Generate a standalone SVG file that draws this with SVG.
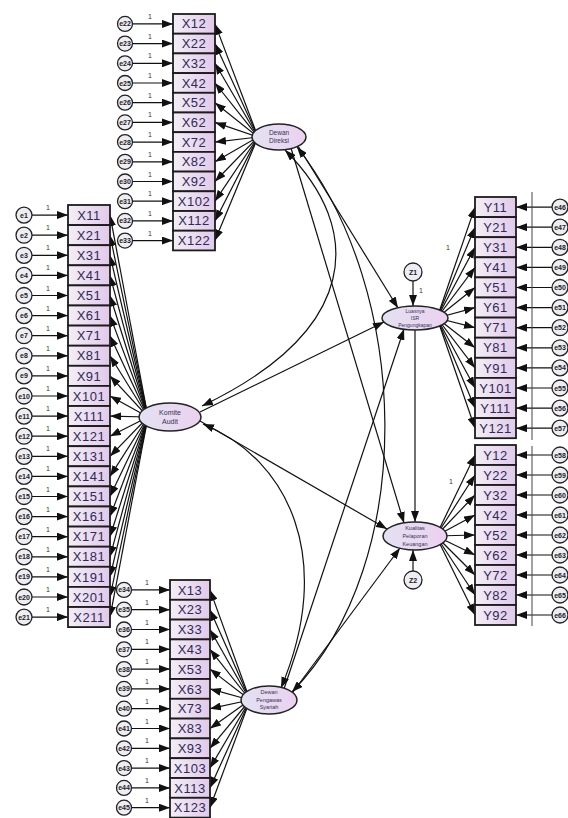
<svg xmlns="http://www.w3.org/2000/svg" width="568" height="818" viewBox="0 0 568 818">
<style>
.b{fill:url(#gb);stroke:#1c1c1c;stroke-width:1.8}
.bt{font-family:"Liberation Sans",Arial,sans-serif;font-size:13px;letter-spacing:0.5px;fill:#2c2c55;text-anchor:middle}
.ec{fill:#eeedf3;stroke:#222;stroke-width:1.3}
.et{font-family:"Liberation Sans",Arial,sans-serif;font-size:7px;font-weight:bold;fill:#222;text-anchor:middle}
.lat{fill:url(#gl);stroke:#222;stroke-width:1.5}
.lt{font-family:"Liberation Sans",Arial,sans-serif;fill:#333350;text-anchor:middle}
.c line,.c path{stroke:#111;stroke-width:1.2;fill:none;marker-end:url(#ah)}
.c path.cov{marker-start:url(#ah)}
.one{font-family:"Liberation Sans",Arial,sans-serif;font-size:7px;fill:#333;text-anchor:middle}
</style>
<defs>
<linearGradient id="gb" x1="0" y1="0" x2="1" y2="0"><stop offset="0" stop-color="#f3eef6"/><stop offset="1" stop-color="#e2c9ea"/></linearGradient>
<linearGradient id="gl" x1="0" y1="0" x2="1" y2="0"><stop offset="0" stop-color="#e3e1f2"/><stop offset="1" stop-color="#ecd1f0"/></linearGradient>
<marker id="ah" markerUnits="userSpaceOnUse" markerWidth="12" markerHeight="8" refX="11" refY="4" orient="auto-start-reverse"><path d="M0,0 L11,4 L0,8 z" fill="#111"/></marker>
</defs>
<rect width="568" height="818" fill="#fff"/>

<g id="connectors" class="c">
<line x1="258" y1="137" x2="215" y2="23.9"/><line x1="258" y1="137" x2="215" y2="43.6"/><line x1="258" y1="137" x2="215" y2="63.3"/><line x1="258" y1="137" x2="215" y2="83"/><line x1="258" y1="137" x2="215" y2="102.7"/><line x1="258" y1="137" x2="215" y2="122.4"/><line x1="258" y1="137" x2="215" y2="142.1"/><line x1="258" y1="137" x2="215" y2="161.8"/><line x1="258" y1="137" x2="215" y2="181.5"/><line x1="258" y1="137" x2="215" y2="201.2"/><line x1="258" y1="137" x2="215" y2="220.9"/><line x1="258" y1="137" x2="215" y2="240.6"/>
<line x1="148" y1="417" x2="110" y2="215.1"/><line x1="148" y1="417" x2="110" y2="235.2"/><line x1="148" y1="417" x2="110" y2="255.3"/><line x1="148" y1="417" x2="110" y2="275.4"/><line x1="148" y1="417" x2="110" y2="295.5"/><line x1="148" y1="417" x2="110" y2="315.6"/><line x1="148" y1="417" x2="110" y2="335.7"/><line x1="148" y1="417" x2="110" y2="355.8"/><line x1="148" y1="417" x2="110" y2="375.9"/><line x1="148" y1="417" x2="110" y2="396"/><line x1="148" y1="417" x2="110" y2="416.1"/><line x1="148" y1="417" x2="110" y2="436.2"/><line x1="148" y1="417" x2="110" y2="456.3"/><line x1="148" y1="417" x2="110" y2="476.4"/><line x1="148" y1="417" x2="110" y2="496.5"/><line x1="148" y1="417" x2="110" y2="516.6"/><line x1="148" y1="417" x2="110" y2="536.7"/><line x1="148" y1="417" x2="110" y2="556.8"/><line x1="148" y1="417" x2="110" y2="576.9"/><line x1="148" y1="417" x2="110" y2="597"/><line x1="148" y1="417" x2="110" y2="617.1"/>
<line x1="250" y1="700" x2="210" y2="589.9"/><line x1="250" y1="700" x2="210" y2="609.7"/><line x1="250" y1="700" x2="210" y2="629.5"/><line x1="250" y1="700" x2="210" y2="649.3"/><line x1="250" y1="700" x2="210" y2="669.1"/><line x1="250" y1="700" x2="210" y2="688.9"/><line x1="250" y1="700" x2="210" y2="708.7"/><line x1="250" y1="700" x2="210" y2="728.5"/><line x1="250" y1="700" x2="210" y2="748.3"/><line x1="250" y1="700" x2="210" y2="768.1"/><line x1="250" y1="700" x2="210" y2="787.9"/><line x1="250" y1="700" x2="210" y2="807.7"/>
<line x1="437" y1="318" x2="475" y2="207.1"/><line x1="437" y1="318" x2="475" y2="227.2"/><line x1="437" y1="318" x2="475" y2="247.3"/><line x1="437" y1="318" x2="475" y2="267.4"/><line x1="437" y1="318" x2="475" y2="287.5"/><line x1="437" y1="318" x2="475" y2="307.6"/><line x1="437" y1="318" x2="475" y2="327.7"/><line x1="437" y1="318" x2="475" y2="347.8"/><line x1="437" y1="318" x2="475" y2="367.9"/><line x1="437" y1="318" x2="475" y2="388"/><line x1="437" y1="318" x2="475" y2="408.1"/><line x1="437" y1="318" x2="475" y2="428.2"/>
<line x1="436" y1="536" x2="475" y2="455"/><line x1="436" y1="536" x2="475" y2="475"/><line x1="436" y1="536" x2="475" y2="495"/><line x1="436" y1="536" x2="475" y2="515"/><line x1="436" y1="536" x2="475" y2="535"/><line x1="436" y1="536" x2="475" y2="555"/><line x1="436" y1="536" x2="475" y2="575"/><line x1="436" y1="536" x2="475" y2="595"/><line x1="436" y1="536" x2="475" y2="615"/>
<line x1="132.5" y1="23.9" x2="173" y2="23.9"/><line x1="132.5" y1="43.6" x2="173" y2="43.6"/><line x1="132.5" y1="63.3" x2="173" y2="63.3"/><line x1="132.5" y1="83" x2="173" y2="83"/><line x1="132.5" y1="102.7" x2="173" y2="102.7"/><line x1="132.5" y1="122.4" x2="173" y2="122.4"/><line x1="132.5" y1="142.1" x2="173" y2="142.1"/><line x1="132.5" y1="161.8" x2="173" y2="161.8"/><line x1="132.5" y1="181.5" x2="173" y2="181.5"/><line x1="132.5" y1="201.2" x2="173" y2="201.2"/><line x1="132.5" y1="220.9" x2="173" y2="220.9"/><line x1="132.5" y1="240.6" x2="173" y2="240.6"/>
<line x1="32" y1="215.1" x2="68" y2="215.1"/><line x1="32" y1="235.2" x2="68" y2="235.2"/><line x1="32" y1="255.3" x2="68" y2="255.3"/><line x1="32" y1="275.4" x2="68" y2="275.4"/><line x1="32" y1="295.5" x2="68" y2="295.5"/><line x1="32" y1="315.6" x2="68" y2="315.6"/><line x1="32" y1="335.7" x2="68" y2="335.7"/><line x1="32" y1="355.8" x2="68" y2="355.8"/><line x1="32" y1="375.9" x2="68" y2="375.9"/><line x1="32" y1="396" x2="68" y2="396"/><line x1="32" y1="416.1" x2="68" y2="416.1"/><line x1="32" y1="436.2" x2="68" y2="436.2"/><line x1="32" y1="456.3" x2="68" y2="456.3"/><line x1="32" y1="476.4" x2="68" y2="476.4"/><line x1="32" y1="496.5" x2="68" y2="496.5"/><line x1="32" y1="516.6" x2="68" y2="516.6"/><line x1="32" y1="536.7" x2="68" y2="536.7"/><line x1="32" y1="556.8" x2="68" y2="556.8"/><line x1="32" y1="576.9" x2="68" y2="576.9"/><line x1="32" y1="597" x2="68" y2="597"/><line x1="32" y1="617.1" x2="68" y2="617.1"/>
<line x1="131.5" y1="589.9" x2="170" y2="589.9"/><line x1="131.5" y1="609.7" x2="170" y2="609.7"/><line x1="131.5" y1="629.5" x2="170" y2="629.5"/><line x1="131.5" y1="649.3" x2="170" y2="649.3"/><line x1="131.5" y1="669.1" x2="170" y2="669.1"/><line x1="131.5" y1="688.9" x2="170" y2="688.9"/><line x1="131.5" y1="708.7" x2="170" y2="708.7"/><line x1="131.5" y1="728.5" x2="170" y2="728.5"/><line x1="131.5" y1="748.3" x2="170" y2="748.3"/><line x1="131.5" y1="768.1" x2="170" y2="768.1"/><line x1="131.5" y1="787.9" x2="170" y2="787.9"/><line x1="131.5" y1="807.7" x2="170" y2="807.7"/>
<line x1="552" y1="207.1" x2="516" y2="207.1"/><line x1="552" y1="227.2" x2="516" y2="227.2"/><line x1="552" y1="247.3" x2="516" y2="247.3"/><line x1="552" y1="267.4" x2="516" y2="267.4"/><line x1="552" y1="287.5" x2="516" y2="287.5"/><line x1="552" y1="307.6" x2="516" y2="307.6"/><line x1="552" y1="327.7" x2="516" y2="327.7"/><line x1="552" y1="347.8" x2="516" y2="347.8"/><line x1="552" y1="367.9" x2="516" y2="367.9"/><line x1="552" y1="388" x2="516" y2="388"/><line x1="552" y1="408.1" x2="516" y2="408.1"/><line x1="552" y1="428.2" x2="516" y2="428.2"/>
<line x1="552" y1="455" x2="516" y2="455"/><line x1="552" y1="475" x2="516" y2="475"/><line x1="552" y1="495" x2="516" y2="495"/><line x1="552" y1="515" x2="516" y2="515"/><line x1="552" y1="535" x2="516" y2="535"/><line x1="552" y1="555" x2="516" y2="555"/><line x1="552" y1="575" x2="516" y2="575"/><line x1="552" y1="595" x2="516" y2="595"/><line x1="552" y1="615" x2="516" y2="615"/>
<line x1="298" y1="146" x2="398" y2="308"/>
<line x1="291" y1="148" x2="404" y2="523"/>
<line x1="200" y1="412" x2="384" y2="322"/>
<line x1="200" y1="421" x2="387" y2="529"/>
<line x1="283" y1="692" x2="404" y2="329"/>
<line x1="290" y1="696" x2="400" y2="548"/>
<line x1="415" y1="330" x2="415" y2="522"/>
<line x1="413" y1="281" x2="413" y2="306"/>
<line x1="413" y1="571" x2="413" y2="550"/>
<path class="cov" d="M285,150 C365,230 360,330 202,406"/>
<path class="cov" d="M297,147 C410,290 420,560 292,692"/>
<path class="cov" d="M203,424 C290,460 335,560 281,688"/>
<line x1="532" y1="192" x2="532" y2="440" style="marker-end:none;stroke:#444;stroke-width:1"/>
<line x1="532" y1="446" x2="532" y2="626" style="marker-end:none;stroke:#444;stroke-width:1"/>
</g>

<g id="labels">
<text class="one" x="150" y="19">1</text><text class="one" x="150" y="38.7">1</text><text class="one" x="150" y="58.4">1</text><text class="one" x="150" y="78">1</text><text class="one" x="150" y="97.7">1</text><text class="one" x="150" y="117.4">1</text><text class="one" x="150" y="137.1">1</text><text class="one" x="150" y="156.8">1</text><text class="one" x="150" y="176.5">1</text><text class="one" x="150" y="196.2">1</text><text class="one" x="150" y="215.9">1</text><text class="one" x="150" y="235.6">1</text>
<text class="one" x="48" y="210.1">1</text><text class="one" x="48" y="230.2">1</text><text class="one" x="48" y="250.3">1</text><text class="one" x="48" y="270.4">1</text><text class="one" x="48" y="290.5">1</text><text class="one" x="48" y="310.6">1</text><text class="one" x="48" y="330.7">1</text><text class="one" x="48" y="350.8">1</text><text class="one" x="48" y="370.9">1</text><text class="one" x="48" y="391">1</text><text class="one" x="48" y="411.1">1</text><text class="one" x="48" y="431.2">1</text><text class="one" x="48" y="451.3">1</text><text class="one" x="48" y="471.4">1</text><text class="one" x="48" y="491.5">1</text><text class="one" x="48" y="511.6">1</text><text class="one" x="48" y="531.7">1</text><text class="one" x="48" y="551.8">1</text><text class="one" x="48" y="571.9">1</text><text class="one" x="48" y="592">1</text><text class="one" x="48" y="612.1">1</text>
<text class="one" x="147" y="584.9">1</text><text class="one" x="147" y="604.7">1</text><text class="one" x="147" y="624.5">1</text><text class="one" x="147" y="644.3">1</text><text class="one" x="147" y="664.1">1</text><text class="one" x="147" y="683.9">1</text><text class="one" x="147" y="703.7">1</text><text class="one" x="147" y="723.5">1</text><text class="one" x="147" y="743.3">1</text><text class="one" x="147" y="763.1">1</text><text class="one" x="147" y="782.9">1</text><text class="one" x="147" y="802.7">1</text>
<text class="one" x="448" y="250">1</text>
<text class="one" x="451" y="484">1</text>
<text class="one" x="421" y="293">1</text>
</g>

<g id="DewanDireksi"><ellipse class="lat" cx="279" cy="137" rx="27" ry="13"/><text class="lt" x="279" y="135" font-size="6.5">Dewan</text><text class="lt" x="279" y="143" font-size="6.5">Direksi</text></g>
<g id="KomiteAudit"><ellipse class="lat" cx="170" cy="417" rx="31" ry="14"/><text class="lt" x="170" y="415" font-size="7">Komite</text><text class="lt" x="170" y="424" font-size="7">Audit</text></g>
<g id="DewanPengawasSyariah"><ellipse class="lat" cx="269" cy="700" rx="28" ry="14"/><text class="lt" x="269" y="694" font-size="5.5">Dewan</text><text class="lt" x="269" y="701.5" font-size="5.5">Pengawas</text><text class="lt" x="269" y="709" font-size="5.5">Syariah</text></g>
<g id="Luasnya"><ellipse class="lat" cx="415" cy="318" rx="33" ry="12"/><text class="lt" x="415" y="313" font-size="5">Luasnya</text><text class="lt" x="415" y="320" font-size="5">ISR</text><text class="lt" x="415" y="327" font-size="5">Pengungkapan</text></g>
<g id="Kualitas"><ellipse class="lat" cx="415" cy="536" rx="32" ry="14"/><text class="lt" x="415" y="530" font-size="5.5">Kualitas</text><text class="lt" x="415" y="538" font-size="5.5">Pelaporan</text><text class="lt" x="415" y="546" font-size="5.5">Keuangan</text></g>
<g id="z1"><circle class="ec" cx="413" cy="272" r="9"/><text class="et" x="413" y="274.5" font-size="7">Z1</text></g>
<g id="z2"><circle class="ec" cx="413" cy="580" r="9"/><text class="et" x="413" y="582.5" font-size="7">Z2</text></g>

<g id="top-indicators">
<g id="X12"><rect class="b" x="173" y="14" width="42" height="19.7"/><text class="bt" x="194" y="28.4">X12</text></g>
<g id="X22"><rect class="b" x="173" y="33.7" width="42" height="19.7"/><text class="bt" x="194" y="48.1">X22</text></g>
<g id="X32"><rect class="b" x="173" y="53.4" width="42" height="19.7"/><text class="bt" x="194" y="67.8">X32</text></g>
<g id="X42"><rect class="b" x="173" y="73.1" width="42" height="19.7"/><text class="bt" x="194" y="87.5">X42</text></g>
<g id="X52"><rect class="b" x="173" y="92.8" width="42" height="19.7"/><text class="bt" x="194" y="107.2">X52</text></g>
<g id="X62"><rect class="b" x="173" y="112.5" width="42" height="19.7"/><text class="bt" x="194" y="126.9">X62</text></g>
<g id="X72"><rect class="b" x="173" y="132.2" width="42" height="19.7"/><text class="bt" x="194" y="146.6">X72</text></g>
<g id="X82"><rect class="b" x="173" y="151.9" width="42" height="19.7"/><text class="bt" x="194" y="166.3">X82</text></g>
<g id="X92"><rect class="b" x="173" y="171.6" width="42" height="19.7"/><text class="bt" x="194" y="186">X92</text></g>
<g id="X102"><rect class="b" x="173" y="191.3" width="42" height="19.7"/><text class="bt" x="194" y="205.7">X102</text></g>
<g id="X112"><rect class="b" x="173" y="211" width="42" height="19.7"/><text class="bt" x="194" y="225.4">X112</text></g>
<g id="X122"><rect class="b" x="173" y="230.7" width="42" height="19.7"/><text class="bt" x="194" y="245.1">X122</text></g>
</g>

<g id="left-indicators">
<g id="X11"><rect class="b" x="68" y="205" width="42" height="20.1"/><text class="bt" x="89" y="219.7">X11</text></g>
<g id="X21"><rect class="b" x="68" y="225.1" width="42" height="20.1"/><text class="bt" x="89" y="239.8">X21</text></g>
<g id="X31"><rect class="b" x="68" y="245.2" width="42" height="20.1"/><text class="bt" x="89" y="259.9">X31</text></g>
<g id="X41"><rect class="b" x="68" y="265.3" width="42" height="20.1"/><text class="bt" x="89" y="280">X41</text></g>
<g id="X51"><rect class="b" x="68" y="285.4" width="42" height="20.1"/><text class="bt" x="89" y="300.1">X51</text></g>
<g id="X61"><rect class="b" x="68" y="305.5" width="42" height="20.1"/><text class="bt" x="89" y="320.2">X61</text></g>
<g id="X71"><rect class="b" x="68" y="325.6" width="42" height="20.1"/><text class="bt" x="89" y="340.3">X71</text></g>
<g id="X81"><rect class="b" x="68" y="345.7" width="42" height="20.1"/><text class="bt" x="89" y="360.4">X81</text></g>
<g id="X91"><rect class="b" x="68" y="365.8" width="42" height="20.1"/><text class="bt" x="89" y="380.5">X91</text></g>
<g id="X101"><rect class="b" x="68" y="385.9" width="42" height="20.1"/><text class="bt" x="89" y="400.6">X101</text></g>
<g id="X111"><rect class="b" x="68" y="406" width="42" height="20.1"/><text class="bt" x="89" y="420.7">X111</text></g>
<g id="X121"><rect class="b" x="68" y="426.1" width="42" height="20.1"/><text class="bt" x="89" y="440.8">X121</text></g>
<g id="X131"><rect class="b" x="68" y="446.2" width="42" height="20.1"/><text class="bt" x="89" y="460.9">X131</text></g>
<g id="X141"><rect class="b" x="68" y="466.3" width="42" height="20.1"/><text class="bt" x="89" y="481">X141</text></g>
<g id="X151"><rect class="b" x="68" y="486.4" width="42" height="20.1"/><text class="bt" x="89" y="501.1">X151</text></g>
<g id="X161"><rect class="b" x="68" y="506.5" width="42" height="20.1"/><text class="bt" x="89" y="521.2">X161</text></g>
<g id="X171"><rect class="b" x="68" y="526.6" width="42" height="20.1"/><text class="bt" x="89" y="541.3">X171</text></g>
<g id="X181"><rect class="b" x="68" y="546.7" width="42" height="20.1"/><text class="bt" x="89" y="561.4">X181</text></g>
<g id="X191"><rect class="b" x="68" y="566.8" width="42" height="20.1"/><text class="bt" x="89" y="581.5">X191</text></g>
<g id="X201"><rect class="b" x="68" y="586.9" width="42" height="20.1"/><text class="bt" x="89" y="601.6">X201</text></g>
<g id="X211"><rect class="b" x="68" y="607" width="42" height="20.1"/><text class="bt" x="89" y="621.7">X211</text></g>
</g>

<g id="bottom-indicators">
<g id="X13"><rect class="b" x="170" y="580" width="40" height="19.8"/><text class="bt" x="190" y="594.5">X13</text></g>
<g id="X23"><rect class="b" x="170" y="599.8" width="40" height="19.8"/><text class="bt" x="190" y="614.3">X23</text></g>
<g id="X33"><rect class="b" x="170" y="619.6" width="40" height="19.8"/><text class="bt" x="190" y="634.1">X33</text></g>
<g id="X43"><rect class="b" x="170" y="639.4" width="40" height="19.8"/><text class="bt" x="190" y="653.9">X43</text></g>
<g id="X53"><rect class="b" x="170" y="659.2" width="40" height="19.8"/><text class="bt" x="190" y="673.7">X53</text></g>
<g id="X63"><rect class="b" x="170" y="679" width="40" height="19.8"/><text class="bt" x="190" y="693.5">X63</text></g>
<g id="X73"><rect class="b" x="170" y="698.8" width="40" height="19.8"/><text class="bt" x="190" y="713.3">X73</text></g>
<g id="X83"><rect class="b" x="170" y="718.6" width="40" height="19.8"/><text class="bt" x="190" y="733.1">X83</text></g>
<g id="X93"><rect class="b" x="170" y="738.4" width="40" height="19.8"/><text class="bt" x="190" y="752.9">X93</text></g>
<g id="X103"><rect class="b" x="170" y="758.2" width="40" height="19.8"/><text class="bt" x="190" y="772.7">X103</text></g>
<g id="X113"><rect class="b" x="170" y="778" width="40" height="19.8"/><text class="bt" x="190" y="792.5">X113</text></g>
<g id="X123"><rect class="b" x="170" y="797.8" width="40" height="19.8"/><text class="bt" x="190" y="812.3">X123</text></g>
</g>

<g id="right-indicators">
<g id="Y11"><rect class="b" x="475" y="197" width="41" height="20.1"/><text class="bt" x="495.5" y="211.7">Y11</text></g>
<g id="Y21"><rect class="b" x="475" y="217.1" width="41" height="20.1"/><text class="bt" x="495.5" y="231.8">Y21</text></g>
<g id="Y31"><rect class="b" x="475" y="237.2" width="41" height="20.1"/><text class="bt" x="495.5" y="251.9">Y31</text></g>
<g id="Y41"><rect class="b" x="475" y="257.3" width="41" height="20.1"/><text class="bt" x="495.5" y="272">Y41</text></g>
<g id="Y51"><rect class="b" x="475" y="277.4" width="41" height="20.1"/><text class="bt" x="495.5" y="292.1">Y51</text></g>
<g id="Y61"><rect class="b" x="475" y="297.5" width="41" height="20.1"/><text class="bt" x="495.5" y="312.2">Y61</text></g>
<g id="Y71"><rect class="b" x="475" y="317.6" width="41" height="20.1"/><text class="bt" x="495.5" y="332.3">Y71</text></g>
<g id="Y81"><rect class="b" x="475" y="337.7" width="41" height="20.1"/><text class="bt" x="495.5" y="352.4">Y81</text></g>
<g id="Y91"><rect class="b" x="475" y="357.8" width="41" height="20.1"/><text class="bt" x="495.5" y="372.5">Y91</text></g>
<g id="Y101"><rect class="b" x="475" y="377.9" width="41" height="20.1"/><text class="bt" x="495.5" y="392.6">Y101</text></g>
<g id="Y111"><rect class="b" x="475" y="398" width="41" height="20.1"/><text class="bt" x="495.5" y="412.7">Y111</text></g>
<g id="Y121"><rect class="b" x="475" y="418.1" width="41" height="20.1"/><text class="bt" x="495.5" y="432.8">Y121</text></g>
<g id="Y12"><rect class="b" x="475" y="445" width="41" height="20"/><text class="bt" x="495.5" y="459.6">Y12</text></g>
<g id="Y22"><rect class="b" x="475" y="465" width="41" height="20"/><text class="bt" x="495.5" y="479.6">Y22</text></g>
<g id="Y32"><rect class="b" x="475" y="485" width="41" height="20"/><text class="bt" x="495.5" y="499.6">Y32</text></g>
<g id="Y42"><rect class="b" x="475" y="505" width="41" height="20"/><text class="bt" x="495.5" y="519.6">Y42</text></g>
<g id="Y52"><rect class="b" x="475" y="525" width="41" height="20"/><text class="bt" x="495.5" y="539.6">Y52</text></g>
<g id="Y62"><rect class="b" x="475" y="545" width="41" height="20"/><text class="bt" x="495.5" y="559.6">Y62</text></g>
<g id="Y72"><rect class="b" x="475" y="565" width="41" height="20"/><text class="bt" x="495.5" y="579.6">Y72</text></g>
<g id="Y82"><rect class="b" x="475" y="585" width="41" height="20"/><text class="bt" x="495.5" y="599.6">Y82</text></g>
<g id="Y92"><rect class="b" x="475" y="605" width="41" height="20"/><text class="bt" x="495.5" y="619.6">Y92</text></g>
</g>

<g id="errors-left">
<g id="e1"><circle class="ec" cx="24" cy="215.1" r="8"/><text class="et" x="24" y="217.6">e1</text></g>
<g id="e2"><circle class="ec" cx="24" cy="235.2" r="8"/><text class="et" x="24" y="237.7">e2</text></g>
<g id="e3"><circle class="ec" cx="24" cy="255.3" r="8"/><text class="et" x="24" y="257.8">e3</text></g>
<g id="e4"><circle class="ec" cx="24" cy="275.4" r="8"/><text class="et" x="24" y="277.9">e4</text></g>
<g id="e5"><circle class="ec" cx="24" cy="295.5" r="8"/><text class="et" x="24" y="298">e5</text></g>
<g id="e6"><circle class="ec" cx="24" cy="315.6" r="8"/><text class="et" x="24" y="318.1">e6</text></g>
<g id="e7"><circle class="ec" cx="24" cy="335.7" r="8"/><text class="et" x="24" y="338.2">e7</text></g>
<g id="e8"><circle class="ec" cx="24" cy="355.8" r="8"/><text class="et" x="24" y="358.3">e8</text></g>
<g id="e9"><circle class="ec" cx="24" cy="375.9" r="8"/><text class="et" x="24" y="378.4">e9</text></g>
<g id="e10"><circle class="ec" cx="24" cy="396" r="8"/><text class="et" x="24" y="398.5">e10</text></g>
<g id="e11"><circle class="ec" cx="24" cy="416.1" r="8"/><text class="et" x="24" y="418.6">e11</text></g>
<g id="e12"><circle class="ec" cx="24" cy="436.2" r="8"/><text class="et" x="24" y="438.7">e12</text></g>
<g id="e13"><circle class="ec" cx="24" cy="456.3" r="8"/><text class="et" x="24" y="458.8">e13</text></g>
<g id="e14"><circle class="ec" cx="24" cy="476.4" r="8"/><text class="et" x="24" y="478.9">e14</text></g>
<g id="e15"><circle class="ec" cx="24" cy="496.5" r="8"/><text class="et" x="24" y="499">e15</text></g>
<g id="e16"><circle class="ec" cx="24" cy="516.6" r="8"/><text class="et" x="24" y="519.1">e16</text></g>
<g id="e17"><circle class="ec" cx="24" cy="536.7" r="8"/><text class="et" x="24" y="539.2">e17</text></g>
<g id="e18"><circle class="ec" cx="24" cy="556.8" r="8"/><text class="et" x="24" y="559.3">e18</text></g>
<g id="e19"><circle class="ec" cx="24" cy="576.9" r="8"/><text class="et" x="24" y="579.4">e19</text></g>
<g id="e20"><circle class="ec" cx="24" cy="597" r="8"/><text class="et" x="24" y="599.5">e20</text></g>
<g id="e21"><circle class="ec" cx="24" cy="617.1" r="8"/><text class="et" x="24" y="619.6">e21</text></g>
</g>

<g id="errors-top">
<g id="e22"><circle class="ec" cx="125" cy="23.9" r="7.5"/><text class="et" x="125" y="26.4">e22</text></g>
<g id="e23"><circle class="ec" cx="125" cy="43.6" r="7.5"/><text class="et" x="125" y="46.1">e23</text></g>
<g id="e24"><circle class="ec" cx="125" cy="63.3" r="7.5"/><text class="et" x="125" y="65.8">e24</text></g>
<g id="e25"><circle class="ec" cx="125" cy="83" r="7.5"/><text class="et" x="125" y="85.5">e25</text></g>
<g id="e26"><circle class="ec" cx="125" cy="102.7" r="7.5"/><text class="et" x="125" y="105.2">e26</text></g>
<g id="e27"><circle class="ec" cx="125" cy="122.4" r="7.5"/><text class="et" x="125" y="124.9">e27</text></g>
<g id="e28"><circle class="ec" cx="125" cy="142.1" r="7.5"/><text class="et" x="125" y="144.6">e28</text></g>
<g id="e29"><circle class="ec" cx="125" cy="161.8" r="7.5"/><text class="et" x="125" y="164.3">e29</text></g>
<g id="e30"><circle class="ec" cx="125" cy="181.5" r="7.5"/><text class="et" x="125" y="184">e30</text></g>
<g id="e31"><circle class="ec" cx="125" cy="201.2" r="7.5"/><text class="et" x="125" y="203.7">e31</text></g>
<g id="e32"><circle class="ec" cx="125" cy="220.9" r="7.5"/><text class="et" x="125" y="223.4">e32</text></g>
<g id="e33"><circle class="ec" cx="125" cy="240.6" r="7.5"/><text class="et" x="125" y="243.1">e33</text></g>
</g>

<g id="errors-bottom">
<g id="e34"><circle class="ec" cx="124" cy="589.9" r="7.5"/><text class="et" x="124" y="592.4">e34</text></g>
<g id="e35"><circle class="ec" cx="124" cy="609.7" r="7.5"/><text class="et" x="124" y="612.2">e35</text></g>
<g id="e36"><circle class="ec" cx="124" cy="629.5" r="7.5"/><text class="et" x="124" y="632">e36</text></g>
<g id="e37"><circle class="ec" cx="124" cy="649.3" r="7.5"/><text class="et" x="124" y="651.8">e37</text></g>
<g id="e38"><circle class="ec" cx="124" cy="669.1" r="7.5"/><text class="et" x="124" y="671.6">e38</text></g>
<g id="e39"><circle class="ec" cx="124" cy="688.9" r="7.5"/><text class="et" x="124" y="691.4">e39</text></g>
<g id="e40"><circle class="ec" cx="124" cy="708.7" r="7.5"/><text class="et" x="124" y="711.2">e40</text></g>
<g id="e41"><circle class="ec" cx="124" cy="728.5" r="7.5"/><text class="et" x="124" y="731">e41</text></g>
<g id="e42"><circle class="ec" cx="124" cy="748.3" r="7.5"/><text class="et" x="124" y="750.8">e42</text></g>
<g id="e43"><circle class="ec" cx="124" cy="768.1" r="7.5"/><text class="et" x="124" y="770.6">e43</text></g>
<g id="e44"><circle class="ec" cx="124" cy="787.9" r="7.5"/><text class="et" x="124" y="790.4">e44</text></g>
<g id="e45"><circle class="ec" cx="124" cy="807.7" r="7.5"/><text class="et" x="124" y="810.2">e45</text></g>
</g>

<g id="errors-right">
<g id="e46"><circle class="ec" cx="560" cy="207.1" r="8"/><text class="et" x="560" y="209.6">e46</text></g>
<g id="e47"><circle class="ec" cx="560" cy="227.2" r="8"/><text class="et" x="560" y="229.7">e47</text></g>
<g id="e48"><circle class="ec" cx="560" cy="247.3" r="8"/><text class="et" x="560" y="249.8">e48</text></g>
<g id="e49"><circle class="ec" cx="560" cy="267.4" r="8"/><text class="et" x="560" y="269.9">e49</text></g>
<g id="e50"><circle class="ec" cx="560" cy="287.5" r="8"/><text class="et" x="560" y="290">e50</text></g>
<g id="e51"><circle class="ec" cx="560" cy="307.6" r="8"/><text class="et" x="560" y="310.1">e51</text></g>
<g id="e52"><circle class="ec" cx="560" cy="327.7" r="8"/><text class="et" x="560" y="330.2">e52</text></g>
<g id="e53"><circle class="ec" cx="560" cy="347.8" r="8"/><text class="et" x="560" y="350.3">e53</text></g>
<g id="e54"><circle class="ec" cx="560" cy="367.9" r="8"/><text class="et" x="560" y="370.4">e54</text></g>
<g id="e55"><circle class="ec" cx="560" cy="388" r="8"/><text class="et" x="560" y="390.5">e55</text></g>
<g id="e56"><circle class="ec" cx="560" cy="408.1" r="8"/><text class="et" x="560" y="410.6">e56</text></g>
<g id="e57"><circle class="ec" cx="560" cy="428.2" r="8"/><text class="et" x="560" y="430.7">e57</text></g>
<g id="e58"><circle class="ec" cx="560" cy="455" r="8"/><text class="et" x="560" y="457.5">e58</text></g>
<g id="e59"><circle class="ec" cx="560" cy="475" r="8"/><text class="et" x="560" y="477.5">e59</text></g>
<g id="e60"><circle class="ec" cx="560" cy="495" r="8"/><text class="et" x="560" y="497.5">e60</text></g>
<g id="e61"><circle class="ec" cx="560" cy="515" r="8"/><text class="et" x="560" y="517.5">e61</text></g>
<g id="e62"><circle class="ec" cx="560" cy="535" r="8"/><text class="et" x="560" y="537.5">e62</text></g>
<g id="e63"><circle class="ec" cx="560" cy="555" r="8"/><text class="et" x="560" y="557.5">e63</text></g>
<g id="e64"><circle class="ec" cx="560" cy="575" r="8"/><text class="et" x="560" y="577.5">e64</text></g>
<g id="e65"><circle class="ec" cx="560" cy="595" r="8"/><text class="et" x="560" y="597.5">e65</text></g>
<g id="e66"><circle class="ec" cx="560" cy="615" r="8"/><text class="et" x="560" y="617.5">e66</text></g>
</g>
</svg>
